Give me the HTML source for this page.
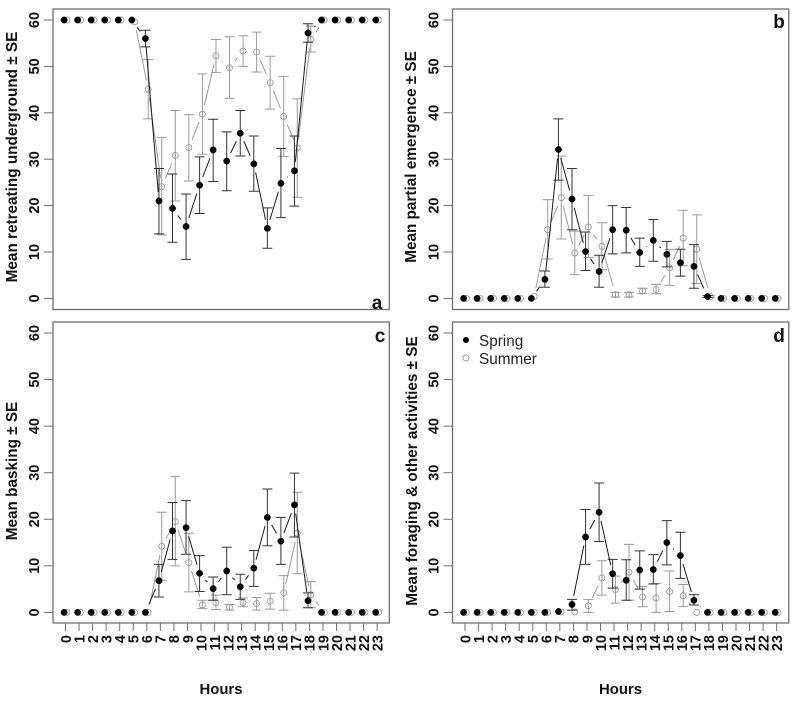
<!DOCTYPE html>
<html lang="en">
<head>
<meta charset="utf-8">
<title>Mean activity by hour, spring and summer</title>
<style>
html,body{margin:0;padding:0;background:#fff;}
svg{display:block;font-family:"Liberation Sans",sans-serif;}
</style>
</head>
<body>
<svg id="chart" width="796" height="702" viewBox="0 0 796 702" xmlns="http://www.w3.org/2000/svg"></svg>
<script>
const hours = [0,1,2,3,4,5,6,7,8,9,10,11,12,13,14,15,16,17,18,19,20,21,22,23];
const yTicks = [0,10,20,30,40,50,60];
const N = null;

const aSpringMean = [60,60,60,60,60,60,56,21,19.4,15.5,24.4,32,29.6,35.6,29,15.1,24.8,27.5,57.2,60,60,60,60,60];
const aSpringLow  = [N,N,N,N,N,N,54.2,13.9,12.1,8.4,18.3,25.2,23.2,30.7,23.1,10.8,17.4,19.9,55.2,N,N,N,N,N];
const aSpringHigh = [N,N,N,N,N,N,57.8,28,26.8,22.5,30.5,38.6,35.9,40.5,35,19.5,32.3,35,59.2,N,N,N,N,N];
const aSummerMean = [60,60,60,60,60,59.6,45.1,24.1,30.8,32.5,39.7,52.3,49.7,53.3,53.1,46.5,39.2,32.4,55.8,60,60,60,60,60];
const aSummerLow  = [N,N,N,N,N,N,38.7,13.7,21,25.3,31.1,48.7,43.1,50,48.8,40.8,30.6,21.8,53.1,N,N,N,N,N];
const aSummerHigh = [N,N,N,N,N,N,51.5,34.7,40.5,39.6,48.4,55.8,56.4,56.6,57.4,52.2,47.8,43,58.7,N,N,N,N,N];

const bSpringMean = [0,0,0,0,0,0,4.1,32.1,21.4,10.1,5.8,14.8,14.7,9.9,12.5,9.5,7.7,6.9,0.4,0,0,0,0,0];
const bSpringLow  = [N,N,N,N,N,N,2.4,25.5,14.8,6,2.4,9.6,9.8,6.9,8,6.8,4.8,2.2,0.2,N,N,N,N,N];
const bSpringHigh = [N,N,N,N,N,N,5.9,38.7,28,14.3,9.3,20,19.6,13,17,12.3,10.6,11.6,0.6,N,N,N,N,N];
const bSummerMean = [0,0,0,0,0,0.4,14.8,21.7,9.8,15.4,11.2,0.8,0.8,1.6,1.9,6.6,13,10.6,0.4,0,0,0,0,0];
const bSummerLow  = [N,N,N,N,N,N,8.5,12.8,5.1,8.8,6.2,0.3,0.3,1,1,2.8,7,3.2,0.2,N,N,N,N,N];
const bSummerHigh = [N,N,N,N,N,N,21.3,30.7,14.5,22.2,16.3,1.3,1.3,2.2,3,10.5,19,18,0.6,N,N,N,N,N];

const cSpringMean = [0,0,0,0,0,0,0,6.8,17.5,18.2,8.4,5.1,8.9,5.5,9.5,20.4,15.3,23.1,2.5,0,0,0,0,0];
const cSpringLow  = [N,N,N,N,N,N,N,3.3,11.4,12.5,4.5,2.6,3.8,2.8,5.6,14.3,10.3,16.2,1,N,N,N,N,N];
const cSpringHigh = [N,N,N,N,N,N,N,10.3,23.6,24,12.2,7.6,14,8.2,13.3,26.5,20.4,29.9,4.2,N,N,N,N,N];
const cSummerMean = [0,0,0,0,0,0,0,14.2,19.5,10.7,1.6,2.1,1.1,2.1,1.9,2.4,4.2,17,3.8,0,0,0,0,0];
const cSummerLow  = [N,N,N,N,N,N,N,6.9,10,4.4,0.8,0.6,0.5,1.2,0.5,0.7,0.5,8.3,1,N,N,N,N,N];
const cSummerHigh = [N,N,N,N,N,N,N,21.5,29.2,17,2.6,3.7,1.7,3.1,3.2,4.1,7.9,25.8,6.6,N,N,N,N,N];

const dSpringMean = [0,0,0,0,0,0,0,0.2,1.7,16.2,21.5,8.3,6.9,9.1,9.2,15,12.2,2.6,0,0,0,0,0,0];
const dSpringLow  = [N,N,N,N,N,N,N,N,0.5,10.3,15.2,5.2,2.6,5,6.1,10.2,7.3,1.6,N,N,N,N,N,N];
const dSpringHigh = [N,N,N,N,N,N,N,N,2.8,22.1,27.8,11.4,11.3,13.2,12.4,19.7,17.2,3.8,N,N,N,N,N,N];
const dSummerMean = [0,0,0,0,0,0,0,0.1,0.1,1.4,7.4,4.9,8.6,3.3,3.1,4.5,3.6,0,0,0,0,0,0,0];
const dSummerLow  = [N,N,N,N,N,N,N,N,N,0,3.7,2,2.6,1.2,0,0.2,1.3,N,N,N,N,N,N,N];
const dSummerHigh = [N,N,N,N,N,N,N,N,N,2.8,11.1,7.8,14.6,5.6,6.2,8.9,6,N,N,N,N,N,N,N];

const panels = [
  {id:'a', title:'Mean retreating underground \u00B1 SE', left:53, top:9, bottom:309.5, y0:298.4, y60:20, titleX:17, titleY:157, letterX:377, letterY:309, xAxis:false,
   sp:[aSpringMean,aSpringLow,aSpringHigh], su:[aSummerMean,aSummerLow,aSummerHigh]},
  {id:'b', title:'Mean partial emergence \u00B1 SE', left:452.5, top:9, bottom:309.5, y0:298.4, y60:20, titleX:416, titleY:157, letterX:779, letterY:28, xAxis:false,
   sp:[bSpringMean,bSpringLow,bSpringHigh], su:[bSummerMean,bSummerLow,bSummerHigh]},
  {id:'c', title:'Mean basking \u00B1 SE', left:53, top:322, bottom:623, y0:612.4, y60:333, titleX:17, titleY:471, letterX:380, letterY:342, xAxis:true,
   sp:[cSpringMean,cSpringLow,cSpringHigh], su:[cSummerMean,cSummerLow,cSummerHigh]},
  {id:'d', title:'Mean foraging & other activities \u00B1 SE', left:452.5, top:322, bottom:623, y0:612.4, y60:333, titleX:417, titleY:471, letterX:779, letterY:342, xAxis:true,
   sp:[dSpringMean,dSpringLow,dSpringHigh], su:[dSummerMean,dSummerLow,dSummerHigh]}
];

const NS = 'http://www.w3.org/2000/svg';
const root = document.getElementById('chart');
const PANEL_W = 336.3, STEP = 13.55, GAP = 8.8, CAP = 5;
const AXIS = '#6f6f6f', INK = '#111';

function mk(tag, parent, attrs, text) {
  const el = document.createElementNS(NS, tag);
  for (const k in attrs) el.setAttribute(k, attrs[k]);
  if (text !== undefined) el.textContent = text;
  parent.appendChild(el);
  return el;
}

function drawSeries(parent, p, series, label, dx, lineColor, barColor, filled) {
  const xOf = i => p.left + 12.5 + dx + hours[i] * STEP;
  const yOf = v => p.y0 + (p.y60 - p.y0) * v / 60;
  const mean = series[0], low = series[1], high = series[2];

  const g = mk('g', parent, {});
  
  

  for (let i = 0; i < hours.length; i++) {
    if (low[i] === null) continue;
    const x = xOf(i), yl = yOf(low[i]), yh = yOf(high[i]);
    const path = 'M' + x + ' ' + yl + 'V' + yh + 'M' + (x - CAP) + ' ' + yl + 'H' + (x + CAP) + 'M' + (x - CAP) + ' ' + yh + 'H' + (x + CAP);
    const bar = mk('path', g, {d:path, fill:'none', stroke:barColor, 'stroke-width':1});
    
    
  }

  for (let i = 0; i + 1 < hours.length; i++) {
    const x1 = xOf(i), y1 = yOf(mean[i]), x2 = xOf(i + 1), y2 = yOf(mean[i + 1]);
    const len = Math.hypot(x2 - x1, y2 - y1);
    if (len <= 2 * GAP) continue;
    const ux = (x2 - x1) / len, uy = (y2 - y1) / len;
    const seg = mk('line', g, {x1:x1 + ux * GAP, y1:y1 + uy * GAP, x2:x2 - ux * GAP, y2:y2 - uy * GAP, stroke:lineColor, 'stroke-width':1});
    
    
  }

  for (let i = 0; i < hours.length; i++) {
    const pt = mk('circle', g, {cx:xOf(i), cy:yOf(mean[i]), r:filled ? 3.2 : 3, fill:filled ? '#000' : 'none', stroke:filled ? '#000' : lineColor, 'stroke-width':filled ? 0.4 : 0.9});
    
    
  }
}

panels.forEach(function (p) {
  const g = mk('g', root, {});
  
  

  const yOf = v => p.y0 + (p.y60 - p.y0) * v / 60;

  const frame = mk('rect', g, {x:p.left, y:p.top, width:PANEL_W, height:p.bottom - p.top, fill:'#fff', stroke:AXIS, 'stroke-width':1.3});
  
  

  yTicks.forEach(function (t) {
    const y = yOf(t);
    const tick = mk('line', g, {x1:p.left - 9, x2:p.left, y1:y, y2:y, stroke:AXIS, 'stroke-width':1});
    
    
    const bx = p.left - 14;
    const lab = mk('text', g, {x:bx, y:y, transform:'rotate(-90 ' + bx + ' ' + y + ')', 'text-anchor':'middle', 'font-size':14.5, 'font-weight':'bold', fill:INK}, t);
    
    
  });

  const title = mk('text', g, {x:p.titleX, y:p.titleY, transform:'rotate(-90 ' + p.titleX + ' ' + p.titleY + ')', 'text-anchor':'middle', 'font-size':15.3, 'font-weight':'bold', fill:INK}, p.title);
  
  

  if (p.xAxis) {
    hours.forEach(function (h) {
      const x = p.left + 12.5 + h * STEP;
      const tick = mk('line', g, {x1:x, x2:x, y1:p.bottom, y2:p.bottom + 8, stroke:AXIS, 'stroke-width':1});
      
      
      const bx = x + 5.3, by = p.bottom + 12;
      const lab = mk('text', g, {x:bx, y:by, transform:'rotate(-90 ' + bx + ' ' + by + ')', 'text-anchor':'end', 'font-size':14.5, 'font-weight':'bold', fill:INK}, h);
      
      
    });
    const xt = mk('text', g, {x:p.left + 168, y:694, 'text-anchor':'middle', 'font-size':14.9, 'font-weight':'bold', fill:INK}, 'Hours');
    
    
  }

  drawSeries(g, p, p.su, 'summer', 1.4, '#9a9a9a', '#9a9a9a', false);
  drawSeries(g, p, p.sp, 'spring', -1.4, '#1a1a1a', '#333', true);

  const letter = mk('text', g, {x:p.letterX, y:p.letterY, 'text-anchor':'middle', 'font-size':19, 'font-weight':'bold', fill:INK}, p.id);
  
  
});

const legend = mk('g', root, {});



const springEntry = mk('g', legend, {});


mk('circle', springEntry, {cx:466, cy:340, r:3, fill:'#000'});
mk('text', springEntry, {x:479, y:346, 'font-size':15.3, fill:'#222'}, 'Spring');

const summerEntry = mk('g', legend, {});


mk('circle', summerEntry, {cx:466, cy:358, r:3, fill:'none', stroke:'#9a9a9a', 'stroke-width':0.9});
mk('text', summerEntry, {x:479, y:364, 'font-size':15.3, fill:'#222'}, 'Summer');
</script>
</body>
</html>
